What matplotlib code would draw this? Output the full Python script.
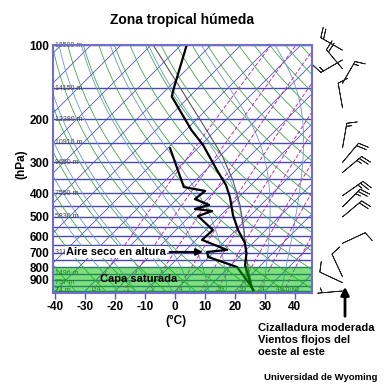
import numpy as np
import matplotlib.pyplot as plt
from matplotlib.ticker import NullLocator
from matplotlib.transforms import blended_transform_factory

plt.rcParams['font.family'] = ['Liberation Sans', 'DejaVu Sans']

SKEW = 82.0  # degC per pressure decade (45 deg isotherms)

# sounding (hPa, degC)
temp_p = [100, 148, 162, 222, 255, 322, 371, 415, 491, 565, 638, 701, 784, 961, 991]
temp_t = [-78.1, -68.3, -65.9, -48.1, -39.3, -26.4, -18.3, -13.0, -6.0, 0.7, 7.3, 11.2, 14.7, 24.1, 25.8]

dew_p = [263, 378, 392, 423, 447, 464, 473, 496, 565, 620, 681, 694, 727, 799, 961, 991]
dew_t = [-49.2, -31.7, -23.3, -24.0, -17.3, -20.7, -14.3, -17.3, -7.7, -8.0, 3.7, -2.3, -0.3, 12.7, 24.1, 25.7]

parcel_p = [100, 145, 211, 280, 354, 447, 565, 714, 837, 991]
parcel_t = [-89.3, -67.7, -46.0, -29.7, -17.7, -7.0, 2.7, 11.7, 18.3, 25.7]

# winds (hPa, direction from, knots)
wind_p = [1000, 925, 875, 640, 500, 455, 410, 330, 300, 262, 180, 143, 125, 115, 105]
wind_dir = [265, 295, 335, 65, 50, 45, 55, 50, 40, 10, 350, 30, 320, 240, 300]
wind_spd = [5, 10, 10, 10, 20, 25, 25, 25, 20, 15, 10, 15, 20, 15, 20]

# height labels on the isobars
hgt_p = [100, 150, 200, 250, 300, 400, 500, 700, 850, 925, 1000]
hgt_lbl = ['16500 m', '14150 m', '12380 m', '10910 m', '9650 m', '7550 m',
           '5830 m', '3111 m', '1496 m', '757 m', '74 m']

# mixing ratio lines (g/kg)
mix_w = [0.4, 1, 2, 4, 7, 10, 16, 24, 40]
mix_lbl = ['0.4', '1', '2', '4', '7', '10', '16', '24', '40 g/kg']

p_top, p_bot = 100, 1019


def skew(t, p):
    return np.asarray(t, float) + SKEW * np.log10(1000.0 / np.asarray(p, float))


def moist_adiabat(t0, pres):
    Rd, cp, Lv, eps = 287.04, 1005.7, 2.501e6, 0.622
    T = t0 + 273.15
    out = [T]
    for i in range(1, len(pres)):
        p = pres[i - 1]
        es = 6.112 * np.exp(17.67 * (T - 273.15) / (T - 273.15 + 243.5))
        rs = eps * es / (p - es)
        dtdp = (Rd * T + Lv * rs) / (p * (cp + Lv * Lv * rs * eps / (Rd * T * T)))
        T = T + dtdp * (pres[i] - p)
        out.append(T)
    return np.array(out) - 273.15


fig = plt.figure(figsize=(3.84, 3.84), dpi=100)
W = 384.0
ax = fig.add_axes([53.3 / W, 1 - 293 / W, (312 - 53.3) / W, (293 - 45) / W])
ax.set_yscale('log')
ax.set_ylim(p_bot, p_top)
ax.set_xlim(-40.6, 45.7)

pres = np.logspace(np.log10(p_bot), np.log10(p_top), 200)

# isobars
for p in range(100, 1001, 50):
    ax.axhline(p, color='#4848bc', lw=1.0, zorder=1)

# isotherms
for t in range(-130, 60, 10):
    ax.plot(skew(np.full_like(pres, t), pres), pres, color='#5454c4', lw=0.6, zorder=1)

# dry adiabats
for th in range(230, 470, 10):
    tt = th * (pres / 1000.0) ** 0.2857 - 273.15
    ax.plot(skew(tt, pres), pres, color='#44a844', lw=0.6, zorder=1)

# moist adiabats
for t0 in range(-18, 40, 6):
    tt = moist_adiabat(t0, pres)
    ax.plot(skew(tt, pres), pres, color='#6a98cc', lw=0.6, zorder=1)

# mixing ratio
for w, lbl in zip(mix_w, mix_lbl):
    e = w * pres / (622.0 + w)
    a = np.log(e / 6.112)
    td = 243.5 * a / (17.67 - a)
    ax.plot(skew(td, pres), pres, color='#c030c0', lw=0.7, ls=(0, (4, 2)), zorder=1)
    e0 = w * 990 / (622.0 + w)
    a0 = np.log(e0 / 6.112)
    ax.text(skew(243.5 * a0 / (17.67 - a0), 990) + 1, 990, lbl, fontsize=5,
            color='#555555', ha='center', va='center', zorder=2)

# height labels
trans = blended_transform_factory(ax.transAxes, ax.transData)
for p, lbl in zip(hgt_p, hgt_lbl):
    ax.text(0.006, p, lbl, transform=trans, fontsize=5, color='#444444',
            ha='left', va='center', zorder=2)

# profiles
ax.plot(skew(parcel_t, parcel_p), parcel_p, color='#555555', lw=0.8, zorder=3)
ax.plot(skew(temp_t, temp_p), temp_p, color='black', lw=1.6, zorder=3)
ax.plot(skew(dew_t, dew_p), dew_p, color='black', lw=1.6, zorder=3)

# saturated layer
ax.axhspan(800, p_bot, color='#00c000', alpha=0.5, lw=0, zorder=4)
ax.text(-12.2, 897, 'Capa saturada', fontsize=8, fontweight='bold',
        ha='center', va='center', zorder=6)

i = dew_p.index(694)
ax.annotate('Aire seco en altura', xy=(skew(dew_t[i], dew_p[i]), dew_p[i]),
            xytext=(-36.3, dew_p[i]), fontsize=8, fontweight='bold',
            ha='left', va='center', zorder=6,
            bbox=dict(facecolor='white', edgecolor='none', pad=0.6),
            arrowprops=dict(arrowstyle='-|>', color='black', lw=1.5,
                            mutation_scale=10, shrinkA=2, shrinkB=3))

# axes style
for s in ax.spines.values():
    s.set_color('#7070cc')
    s.set_linewidth(1.5)
    s.set_zorder(7)
ax.set_xticks(range(-40, 41, 10))
ax.set_xticklabels([str(v) for v in range(-40, 41, 10)], fontsize=8.5, fontweight='bold')
ax.tick_params(axis='x', direction='out', length=4, width=1, color='#5555bb', pad=2)
yt = [100, 200, 300, 400, 500, 600, 700, 800, 900]
ax.set_yticks(yt)
ax.set_yticklabels([str(v) for v in yt], fontsize=8.5, fontweight='bold')
ax.yaxis.set_minor_locator(NullLocator())
ax.tick_params(axis='y', length=0, pad=3)

# wind barbs column
axw = fig.add_axes([320 / W, 1 - 293 / W, 50 / W, (293 - 45) / W])
axw.set_yscale('log')
axw.set_ylim(p_bot, p_top)
axw.set_xlim(0, 1)
axw.axis('off')
d = np.radians(wind_dir)
u = -np.array(wind_spd) * np.sin(d)
v = -np.array(wind_spd) * np.cos(d)
axw.barbs(np.full(len(wind_p), 0.45), wind_p, u, v, length=6, linewidth=0.6,
          color='#222222', clip_on=False)

# texts
fig.text(182 / W, 1 - 20 / W, 'Zona tropical húmeda', fontsize=10, fontweight='bold',
         ha='center', va='center')
fig.text(21 / W, 1 - 164 / W, '(hPa)', fontsize=8.5, fontweight='bold', rotation=90,
         ha='center', va='center')
fig.text(176 / W, 1 - 321 / W, '(°C)', fontsize=8.5, fontweight='bold',
         ha='center', va='center')
fig.text(258 / W, 1 - 340 / W, 'Cizalladura moderada\nVientos flojos del\noeste al este',
         fontsize=8, fontweight='bold', ha='left', va='center', linespacing=1.2)
fig.text(321 / W, 1 - 377 / W, 'Universidad de Wyoming', fontsize=6.8, fontweight='bold',
         ha='center', va='center')
ax.annotate('', xy=(345 / W, 1 - 284 / W), xytext=(345 / W, 1 - 319 / W),
            xycoords='figure fraction', textcoords='figure fraction',
            arrowprops=dict(arrowstyle='-|>', color='black', lw=2, mutation_scale=12),
            annotation_clip=False)

fig.savefig('out.png', dpi=100)
